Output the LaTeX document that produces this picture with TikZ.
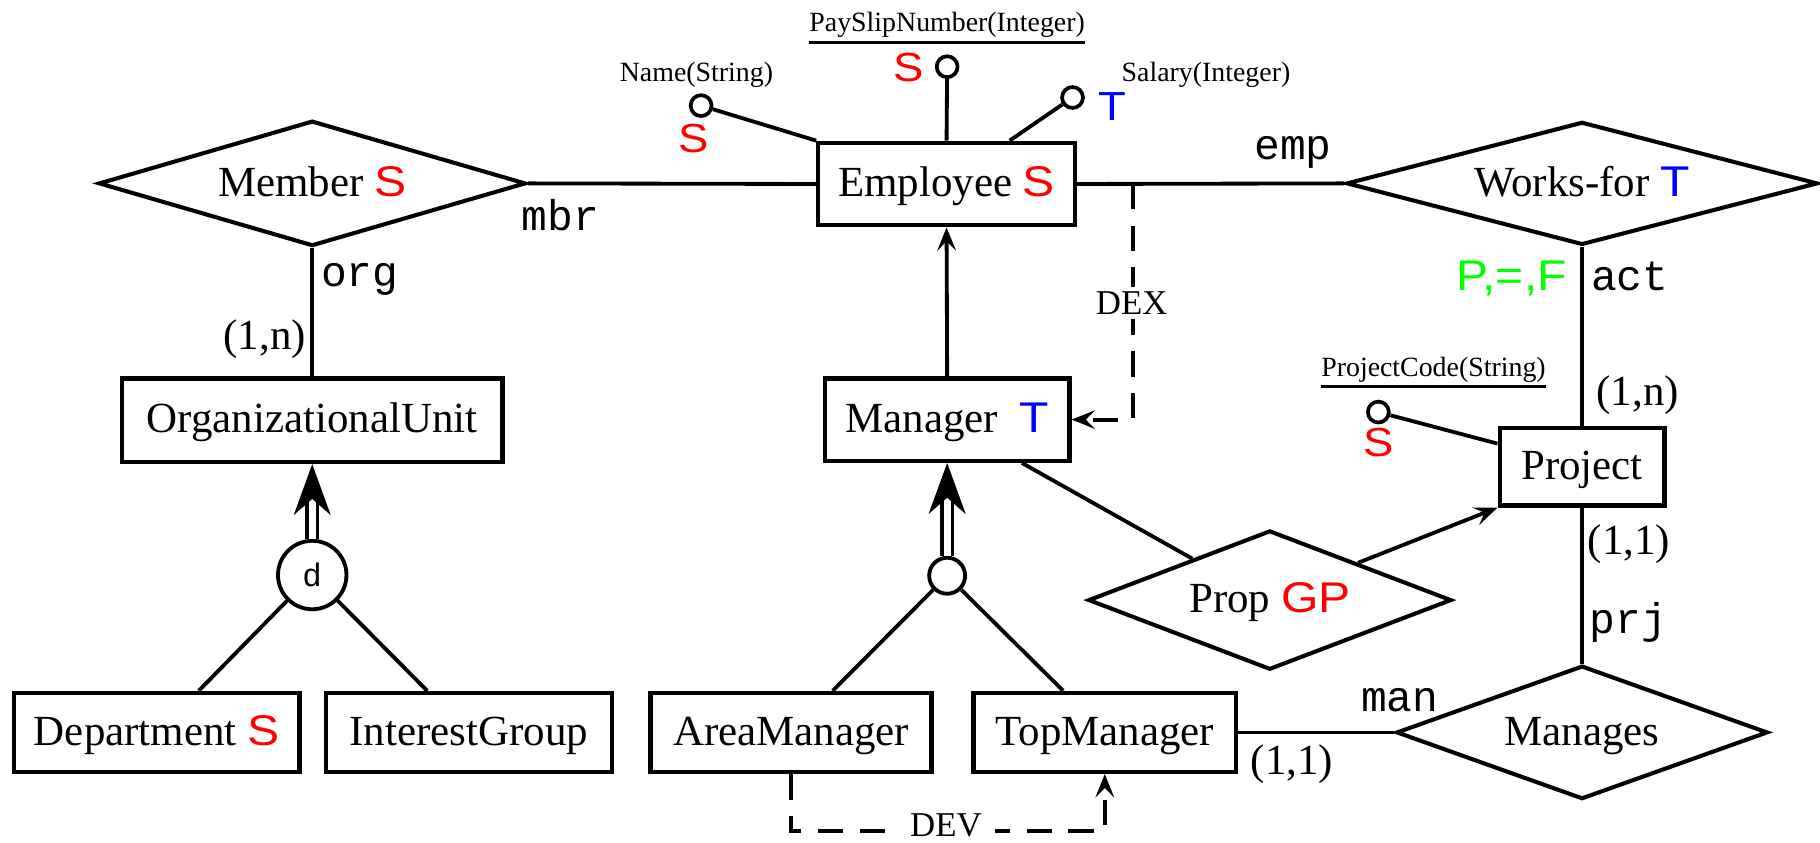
\documentclass[tikz,border=0pt]{standalone}
\usepackage{fontspec}
\setmainfont{Liberation Serif}
\newfontfamily\sansfam{Liberation Sans}[FakeStretch=1.12]
\newfontfamily\monofam{Liberation Mono}
\usetikzlibrary{shapes.geometric,arrows.meta,calc}
\definecolor{ergreen}{RGB}{0,255,0}
\newcommand\redS[1]{{\sansfam\color{red}#1}}
\newcommand\blueS[1]{{\sansfam\color{blue}#1}}
\newcommand\greenS[1]{{\sansfam\color{ergreen}#1}}
% filled head of a generalisation (double) arrow, tip at #1
\newcommand\genhead[1]{\fill (#1) -- ++(-16,44) -- ++(16,-14) -- ++(16,14) -- cycle;}

\begin{document}
\begin{tikzpicture}[x=1pt,y=-1pt,
  every node/.style={inner sep=0pt},
  bigfont/.style={font=\fontsize{37}{40}\selectfont},
  ent/.style={draw, rectangle, line width=3.7pt, text height=22pt, text depth=0pt, bigfont},
  rel/.style={draw, diamond, line width=3.5pt, text height=22pt, text depth=0pt, bigfont},
  conn/.style={line width=3.3pt},
  arr/.style={-{Stealth[length=20pt,width=16pt,inset=8pt]}},
  dblline/.style={double, double distance=6pt, line width=3.2pt},
  dashline/.style={line width=3.3pt, dash pattern=on 22pt off 14pt},
  mono/.style={font=\monofam\fontsize{37}{40}\selectfont, anchor=base},
  card/.style={bigfont, anchor=base},
  attr/.style={font=\fontsize{24}{26}\selectfont, anchor=base},
  sletter/.style={font=\fontsize{35}{38}\selectfont, anchor=base},
  tag/.style={font=\fontsize{30}{32}\selectfont, anchor=base, fill=white, inner sep=4pt},
  dot/.style={draw, circle, line width=3.2pt, minimum size=18pt},
  gen/.style={draw, circle, line width=3.3pt},
  uline/.style={line width=2.4pt}
]
\useasboundingbox (0,0) rectangle (1568,726);

% entities
\node[ent, minimum width=221pt, minimum height=71pt] (emp)  at (815.5,158.5) {Employee \redS{S}};
\node[ent, minimum width=211pt, minimum height=71pt] (mgr)  at (816,361.5) {Manager\hspace{0.5em}\blueS{T}};
\node[ent, minimum width=328pt, minimum height=72pt] (ou)   at (269,362) {OrganizationalUnit};
\node[ent, minimum width=246pt, minimum height=68pt] (dept) at (135,631) {Department \redS{S}};
\node[ent, minimum width=246pt, minimum height=68pt] (ig)   at (404,631) {InterestGroup};
\node[ent, minimum width=242pt, minimum height=68pt] (am)   at (681.5,631) {AreaManager};
\node[ent, minimum width=226pt, minimum height=68pt] (tm)   at (951.8,631) {TopManager};
\node[ent, minimum width=142pt, minimum height=67pt] (proj) at (1363,402) {Project};

% relationships
\node[rel, aspect=3.4, minimum width=368pt, minimum height=108pt] (mem)   at (269,158) {Member \redS{S}};
\node[rel, aspect=3.8, minimum width=406pt, minimum height=106pt] (works) at (1363,158) {Works-for \blueS{T}};
\node[rel, aspect=2.6, minimum width=313pt, minimum height=120pt] (prop)  at (1094,517) {Prop \redS{GP}};
\node[rel, aspect=2.8, minimum width=320pt, minimum height=115pt] (man)   at (1363,631) {Manages};

% generalisation circles
\node[gen, minimum size=59pt, font=\monofam\fontsize{28}{30}\selectfont] (gd) at (269,495.4) {d};
\node[gen, minimum size=31pt] (gm) at (816,496) {};

% attribute circles
\node[dot] (cpsn)  at (816,57.5) {};
\node[dot] (cname) at (604,91) {};
\node[dot] (csal)  at (924,84) {};
\node[dot] (cpc)   at (1187.5,355) {};

% relationship links
\draw[conn] (mem.east) -- (emp.west);
\draw[conn] (emp.east) -- (works.west);
\draw[conn] (mem.south) -- (ou.north);
\draw[conn] (works.south) -- (proj.north);
\draw[conn] (proj.south) -- (man.north);
\draw[conn] (tm.east) -- (man.west);
\draw[conn] ($(mgr.south west)!0.8!(mgr.south east)$) -- ($(prop.west)!0.578!(prop.north)$);
\draw[conn, arr] ($(prop.north)!0.48!(prop.east)$) -- (proj.south west);

% attribute stems
\draw[conn] (cpsn) -- (emp.north);
\draw[conn] (cname) -- (emp.north west);
\draw[conn] (csal) -- ($(emp.north west)!0.742!(emp.north east)$);
\draw[conn] (cpc) -- ($(proj.north west)!0.22!(proj.south west)$);

% subset arrow
\draw[conn, arr] (mgr.north) -- (emp.south);

% generalisations
\draw[dblline] (gd.north) -- ([yshift=-31pt]ou.south);
\genhead{ou.south}
\draw[conn] (gd) -- ($(dept.north west)!0.645!(dept.north east)$);
\draw[conn] (gd) -- ($(ig.north west)!0.356!(ig.north east)$);

\draw[dblline] (gm.north) -- ([yshift=-31pt]mgr.south);
\genhead{mgr.south}
\draw[conn] (gm) -- ($(am.north west)!0.646!(am.north east)$);
\draw[conn] (gm) -- ($(tm.north west)!0.344!(tm.north east)$);

% derivation dependencies
\coordinate (dx) at ($(emp.east)!0.21!(works.west)$);
\draw[dashline, arr] (dx) |- (mgr.east);
\coordinate (dv) at ([yshift=-49pt]am.south);
\draw[dashline, arr] (am.south) -- (dv) -| (tm.south);
\node[tag] (tdex) at (975,271) {DEX};
\node[tag, inner ysep=2pt, inner xsep=11pt] (tdev) at (815,721) {DEV};

% role names and cardinalities
\node[mono] (lmbr) at (483,199) {mbr};
\node[mono] (lorg) at (310,247) {org};
\node[card] (lou)  at (228,301) {(1,n)};
\node[mono] (lemp) at (1114,137) {emp};
\node[mono] (lact) at (1404,250) {act};
\node[bigfont, anchor=base east] (lpf) at (1350,250) {\greenS{P,=,F}};
\node[card] (lpn)  at (1411,349) {(1,n)};
\node[card] (lp11) at (1403.5,478) {(1,1)};
\node[mono] (lprj) at (1403,546) {prj};
\node[mono] (lman) at (1206,613) {man};
\node[card] (lt11) at (1113,667) {(1,1)};

% attribute names and tags
\node[attr] (tpsn)  at (816,27) {PaySlipNumber(Integer)};
\draw[uline] ([yshift=-9.5pt]tpsn.base west) -- ([yshift=-9.5pt]tpsn.base east);
\node[attr] (tname) at (600,70) {Name(String)};
\node[attr] (tsal)  at (1039,70) {Salary(Integer)};
\node[attr] (tpc)   at (1235,324) {ProjectCode(String)};
\draw[uline] ([yshift=-9pt]tpc.base west) -- ([yshift=-9pt]tpc.base east);

\node[sletter] (spsn)  at (783,70) {\redS{S}};
\node[sletter] (sname) at (598,131) {\redS{S}};
\node[sletter] (ssal)  at (958,104) {\blueS{T}};
\node[sletter] (spc)   at (1188,393) {\redS{S}};
\end{tikzpicture}
\end{document}
